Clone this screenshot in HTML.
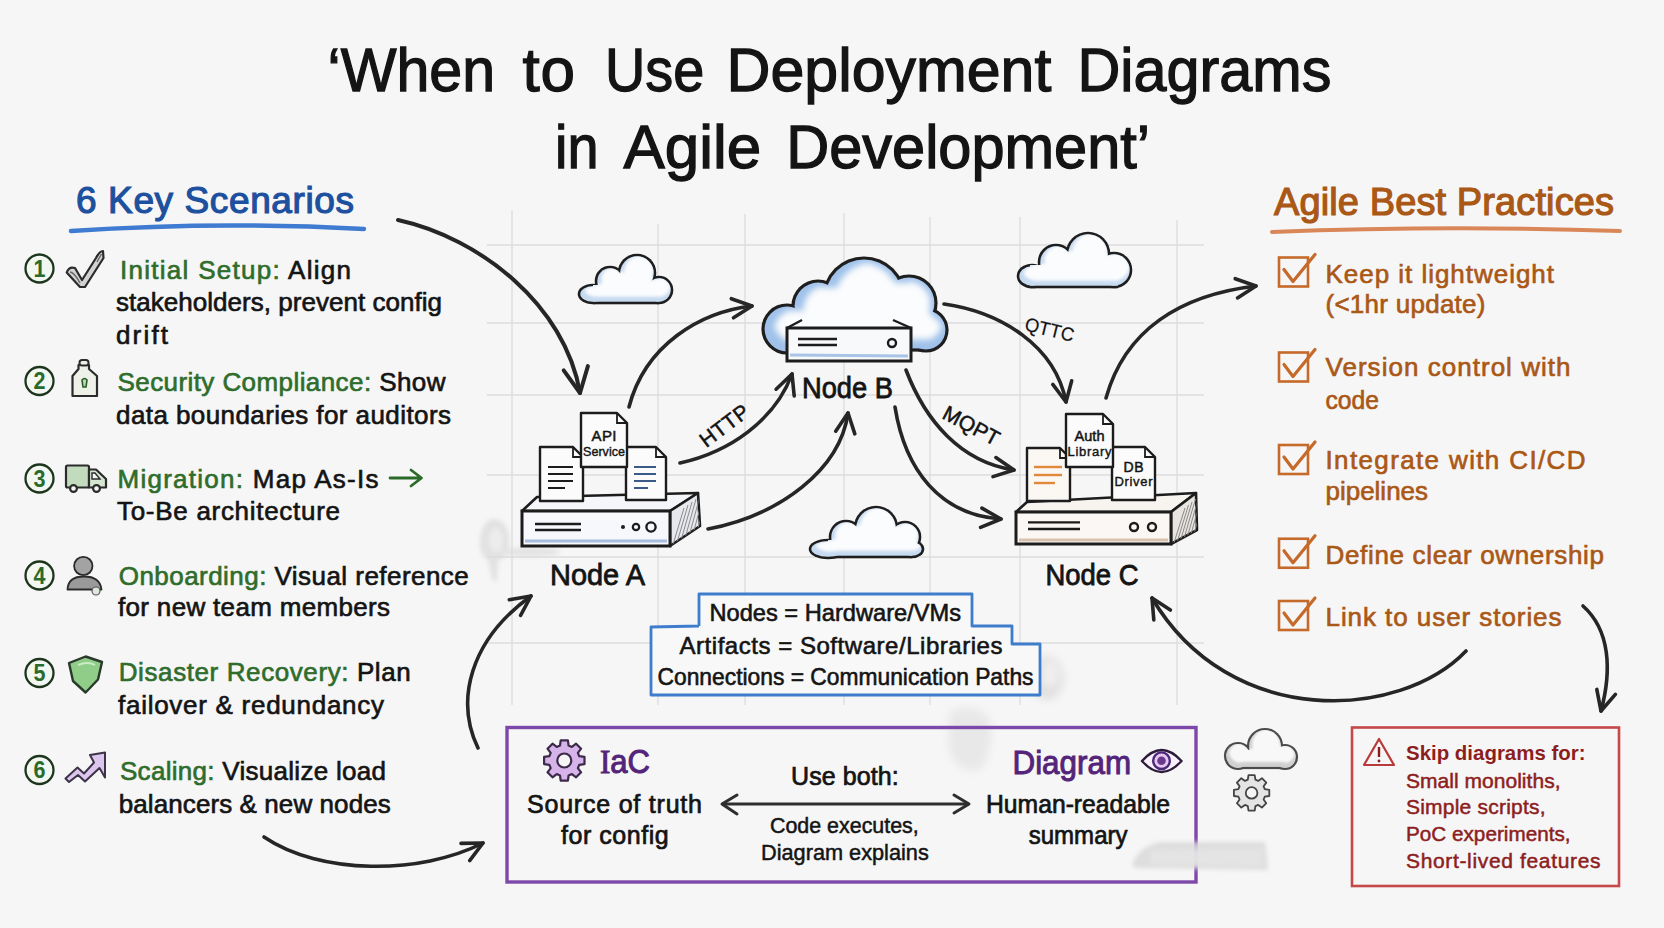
<!DOCTYPE html>
<html><head><meta charset="utf-8"><title>When to Use Deployment Diagrams in Agile Development</title>
<style>html,body{margin:0;padding:0;background:#f6f6f6;}svg{display:block;}text{font-family:"Liberation Sans", sans-serif;}</style>
</head><body>
<svg width="1664" height="928" viewBox="0 0 1664 928" font-family='"Liberation Sans", sans-serif'><rect x="0" y="0" width="1664" height="928" fill="#f6f6f6"/>
<defs><filter id="blur4" x="-50%" y="-50%" width="200%" height="200%"><feGaussianBlur stdDeviation="4"/></filter><filter id="blur2" x="-50%" y="-50%" width="200%" height="200%"><feGaussianBlur stdDeviation="2"/></filter></defs>
<g filter="url(#blur2)"><path d="M480 540 Q 482 518 496 519 Q 510 522 509 545 Q 507 560 498 560 L 497 580 Q 494 584 492 578 L 488 560 Q 479 556 480 540 Z" fill="#e2e2e2"/><ellipse cx="496" cy="540" rx="7" ry="12" fill="#ececec"/><ellipse cx="530" cy="552" rx="30" ry="5" fill="#e4e4e4"/></g>
<g filter="url(#blur4)"><path d="M950 712 Q 975 700 990 720 Q 995 750 980 770 Q 955 775 948 745 Z" fill="#e8e8e8"/><ellipse cx="1047" cy="678" rx="17" ry="22" fill="#e0e0e0"/><ellipse cx="1050" cy="674" rx="9" ry="13" fill="#efefef"/></g>
<line x1="512" y1="210" x2="512" y2="705" stroke="#dcdcdc" stroke-width="1.3"/>
<line x1="658" y1="224" x2="658" y2="705" stroke="#dcdcdc" stroke-width="1.3"/>
<line x1="745" y1="214" x2="745" y2="705" stroke="#dcdcdc" stroke-width="1.3"/>
<line x1="844" y1="213" x2="844" y2="705" stroke="#dcdcdc" stroke-width="1.3"/>
<line x1="930" y1="217" x2="930" y2="705" stroke="#dcdcdc" stroke-width="1.3"/>
<line x1="1020" y1="217" x2="1020" y2="705" stroke="#dcdcdc" stroke-width="1.3"/>
<line x1="1177" y1="220" x2="1177" y2="705" stroke="#dcdcdc" stroke-width="1.3"/>
<line x1="487" y1="245" x2="1204" y2="245" stroke="#dcdcdc" stroke-width="1.3"/>
<line x1="487" y1="323" x2="1204" y2="323" stroke="#dcdcdc" stroke-width="1.3"/>
<line x1="487" y1="395" x2="1204" y2="395" stroke="#dcdcdc" stroke-width="1.3"/>
<line x1="487" y1="475" x2="1204" y2="475" stroke="#dcdcdc" stroke-width="1.3"/>
<line x1="487" y1="557" x2="1204" y2="557" stroke="#dcdcdc" stroke-width="1.3"/>
<line x1="487" y1="643" x2="1204" y2="643" stroke="#dcdcdc" stroke-width="1.3"/>
<text x="327.5" y="91" font-size="62" fill="#141414" font-weight="normal" text-anchor="start" textLength="167.5" lengthAdjust="spacingAndGlyphs" stroke="#141414" stroke-width="1.3">‘When</text>
<text x="522.5" y="91" font-size="62" fill="#141414" font-weight="normal" text-anchor="start" textLength="52.5" lengthAdjust="spacing" stroke="#141414" stroke-width="1.3">to</text>
<text x="605.0" y="91" font-size="62" fill="#141414" font-weight="normal" text-anchor="start" textLength="99.2" lengthAdjust="spacingAndGlyphs" stroke="#141414" stroke-width="1.3">Use</text>
<text x="726.5" y="91" font-size="62" fill="#141414" font-weight="normal" text-anchor="start" textLength="324.8" lengthAdjust="spacingAndGlyphs" stroke="#141414" stroke-width="1.3">Deployment</text>
<text x="1077.5" y="91" font-size="62" fill="#141414" font-weight="normal" text-anchor="start" textLength="254" lengthAdjust="spacingAndGlyphs" stroke="#141414" stroke-width="1.3">Diagrams</text>
<text x="555.0" y="167.5" font-size="62" fill="#141414" font-weight="normal" text-anchor="start" textLength="43.5" lengthAdjust="spacingAndGlyphs" stroke="#141414" stroke-width="1.3">in</text>
<text x="623.5" y="167.5" font-size="62" fill="#141414" font-weight="normal" text-anchor="start" textLength="137.8" lengthAdjust="spacingAndGlyphs" stroke="#141414" stroke-width="1.3">Agile</text>
<text x="786.25" y="167.5" font-size="62" fill="#141414" font-weight="normal" text-anchor="start" textLength="363.8" lengthAdjust="spacingAndGlyphs" stroke="#141414" stroke-width="1.3">Development’</text>
<text x="76" y="212.5" font-size="37" fill="#1d509e" font-weight="normal" text-anchor="start" textLength="278" lengthAdjust="spacing" stroke="#1d509e" stroke-width="1.2">6 Key Scenarios</text>
<path d="M71 231 Q 217 221 364 229" fill="none" stroke="#3f7bd0" stroke-width="4.5" stroke-linecap="round"/>
<circle cx="39.5" cy="268.5" r="14" fill="#f3f7f1" stroke="#1d351d" stroke-width="2.3"/>
<text x="39.5" y="276.7" font-size="23" fill="#2a6a2a" font-weight="bold" text-anchor="middle" textLength="12" lengthAdjust="spacingAndGlyphs">1</text>
<text x="120" y="278.7" font-size="26" fill="#141414" font-weight="normal" text-anchor="start" textLength="231" lengthAdjust="spacing" stroke="#141414" stroke-width="0.65"><tspan fill="#2f6d2c" stroke="#2f6d2c">Initial Setup:</tspan> Align</text>
<text x="116" y="311.3" font-size="26" fill="#141414" font-weight="normal" text-anchor="start" textLength="326" lengthAdjust="spacing" stroke="#141414" stroke-width="0.65">stakeholders, prevent config</text>
<text x="116" y="344" font-size="26" fill="#141414" font-weight="normal" text-anchor="start" textLength="52" lengthAdjust="spacing" stroke="#141414" stroke-width="0.65">drift</text>
<circle cx="39.5" cy="381" r="14" fill="#f3f7f1" stroke="#1d351d" stroke-width="2.3"/>
<text x="39.5" y="389.2" font-size="23" fill="#2a6a2a" font-weight="bold" text-anchor="middle" textLength="12" lengthAdjust="spacingAndGlyphs">2</text>
<text x="117.5" y="391" font-size="26" fill="#141414" font-weight="normal" text-anchor="start" textLength="328" lengthAdjust="spacing" stroke="#141414" stroke-width="0.65"><tspan fill="#2f6d2c" stroke="#2f6d2c">Security Compliance:</tspan> Show</text>
<text x="116" y="423.75" font-size="26" fill="#141414" font-weight="normal" text-anchor="start" textLength="335" lengthAdjust="spacing" stroke="#141414" stroke-width="0.65">data boundaries for auditors</text>
<circle cx="39.5" cy="478.5" r="14" fill="#f3f7f1" stroke="#1d351d" stroke-width="2.3"/>
<text x="39.5" y="486.7" font-size="23" fill="#2a6a2a" font-weight="bold" text-anchor="middle" textLength="12" lengthAdjust="spacingAndGlyphs">3</text>
<text x="117.5" y="487.5" font-size="26" fill="#141414" font-weight="normal" text-anchor="start" textLength="261" lengthAdjust="spacing" stroke="#141414" stroke-width="0.65"><tspan fill="#2f6d2c" stroke="#2f6d2c">Migration:</tspan> Map As-Is</text>
<text x="117" y="520" font-size="26" fill="#141414" font-weight="normal" text-anchor="start" textLength="223" lengthAdjust="spacing" stroke="#141414" stroke-width="0.65">To-Be architecture</text>
<circle cx="39.5" cy="575.5" r="14" fill="#f3f7f1" stroke="#1d351d" stroke-width="2.3"/>
<text x="39.5" y="583.7" font-size="23" fill="#2a6a2a" font-weight="bold" text-anchor="middle" textLength="12" lengthAdjust="spacingAndGlyphs">4</text>
<text x="118.75" y="585" font-size="26" fill="#141414" font-weight="normal" text-anchor="start" textLength="350" lengthAdjust="spacing" stroke="#141414" stroke-width="0.65"><tspan fill="#2f6d2c" stroke="#2f6d2c">Onboarding:</tspan> Visual reference</text>
<text x="118" y="616" font-size="26" fill="#141414" font-weight="normal" text-anchor="start" textLength="272" lengthAdjust="spacing" stroke="#141414" stroke-width="0.65">for new team members</text>
<circle cx="39.5" cy="673" r="14" fill="#f3f7f1" stroke="#1d351d" stroke-width="2.3"/>
<text x="39.5" y="681.2" font-size="23" fill="#2a6a2a" font-weight="bold" text-anchor="middle" textLength="12" lengthAdjust="spacingAndGlyphs">5</text>
<text x="118.75" y="681" font-size="26" fill="#141414" font-weight="normal" text-anchor="start" textLength="292" lengthAdjust="spacing" stroke="#141414" stroke-width="0.65"><tspan fill="#2f6d2c" stroke="#2f6d2c">Disaster Recovery:</tspan> Plan</text>
<text x="118" y="713.75" font-size="26" fill="#141414" font-weight="normal" text-anchor="start" textLength="266" lengthAdjust="spacing" stroke="#141414" stroke-width="0.65">failover &amp; redundancy</text>
<circle cx="39.5" cy="770" r="14" fill="#f3f7f1" stroke="#1d351d" stroke-width="2.3"/>
<text x="39.5" y="778.2" font-size="23" fill="#2a6a2a" font-weight="bold" text-anchor="middle" textLength="12" lengthAdjust="spacingAndGlyphs">6</text>
<text x="120" y="780" font-size="26" fill="#141414" font-weight="normal" text-anchor="start" textLength="266" lengthAdjust="spacing" stroke="#141414" stroke-width="0.65"><tspan fill="#2f6d2c" stroke="#2f6d2c">Scaling:</tspan> Visualize load</text>
<text x="118.75" y="812.5" font-size="26" fill="#141414" font-weight="normal" text-anchor="start" textLength="272" lengthAdjust="spacing" stroke="#141414" stroke-width="0.65">balancers &amp; new nodes</text>
<path d="M390 478 L421 478 M411 470 L421.5 478 L411 486" fill="none" stroke="#2c6a2a" stroke-width="2.8" stroke-linecap="round" stroke-linejoin="round"/>
<path d="M66.7 272.5 Q 69 266 75 268 L 82 280 L 96 258 Q 99.5 251 103 251 L 103.5 258 L 85 287 L 80 287 Z" fill="#d2d2d2" stroke="#2b2b2b" stroke-width="2.2" stroke-linejoin="round"/>
<path d="M70 272 Q 74 272 80 283 M97 262 L 101.5 254" fill="none" stroke="#666" stroke-width="1.4"/>
<path d="M78.5 369 L78.5 365 L89 365 L89 369 L97 376 L97 396 L72.5 396 L72.5 376 Z" fill="#edf1e8" stroke="#2b2b2b" stroke-width="2.2" stroke-linejoin="round"/>
<rect x="79.5" y="360" width="9" height="5.5" rx="2.5" fill="#edf1e8" stroke="#2b2b2b" stroke-width="2"/>
<path d="M82 380 Q 84.5 377 87 380 L86 387 L83 387 Z" fill="#b9dbb0" stroke="#2a5a2a" stroke-width="1.6"/>
<rect x="66" y="465.5" width="23" height="22" rx="1.5" fill="#c3dbbd" stroke="#2b2b2b" stroke-width="2.2"/>
<path d="M89 469.5 L96 469.5 L106 479 L106 487.5 L89 487.5 Z" fill="#d6e7d1" stroke="#2b2b2b" stroke-width="2.2" stroke-linejoin="round"/>
<path d="M92 473 L95 473 L100 479 L92 479 Z" fill="#f6f6f6" stroke="#2b2b2b" stroke-width="1.4"/>
<circle cx="73.5" cy="488.5" r="3.4" fill="#f6f6f6" stroke="#2b2b2b" stroke-width="2.2"/>
<circle cx="96.5" cy="488.5" r="3.4" fill="#f6f6f6" stroke="#2b2b2b" stroke-width="2.2"/>
<circle cx="83.3" cy="566" r="9.2" fill="#a3a3a3" stroke="#2b2b2b" stroke-width="1.8"/>
<path d="M67.5 589.5 Q 68 576.5 84 576.5 Q 100 576.5 101.5 589.5 Z" fill="#9a9a9a" stroke="#2b2b2b" stroke-width="1.8" stroke-linejoin="round"/>
<circle cx="96" cy="591" r="4" fill="#dfe8dc" stroke="#555" stroke-width="1.2"/>
<path d="M69 663 L85.6 656.5 L102 662 L98 679.5 L85.6 692.5 L73 681 Z" fill="#8fcd88" stroke="#2a3a2a" stroke-width="2.4" stroke-linejoin="round"/>
<path d="M78 665 Q 88 661 95 665" fill="none" stroke="#c9ecc4" stroke-width="2"/>
<path d="M65.5 778.5 L77.5 767.5 L84 773.5 L94 762.5 L90 755 L105 752.5 L105 777.5 L99.5 768 L85 781.5 L78 775 L69 782 Z" fill="#dcc6ee" stroke="#3d3348" stroke-width="2" stroke-linejoin="round"/>
<text x="1274" y="215" font-size="38" fill="#aa5816" font-weight="normal" text-anchor="start" textLength="340" lengthAdjust="spacing" stroke="#aa5816" stroke-width="1.2">Agile Best Practices</text>
<path d="M1272 232 Q 1446 225 1620 231" fill="none" stroke="#d98758" stroke-width="4" stroke-linecap="round"/>
<rect x="1279" y="257.5" width="29" height="29" fill="none" stroke="#c56a2a" stroke-width="2.6"/>
<path d="M1284 269.5 L1293 281.5 L1315 254.5" fill="none" stroke="#c56a2a" stroke-width="3.2" stroke-linecap="round" stroke-linejoin="round"/>
<rect x="1279" y="352.5" width="29" height="29" fill="none" stroke="#c56a2a" stroke-width="2.6"/>
<path d="M1284 364.5 L1293 376.5 L1315 349.5" fill="none" stroke="#c56a2a" stroke-width="3.2" stroke-linecap="round" stroke-linejoin="round"/>
<rect x="1279" y="445" width="29" height="29" fill="none" stroke="#c56a2a" stroke-width="2.6"/>
<path d="M1284 457 L1293 469 L1315 442" fill="none" stroke="#c56a2a" stroke-width="3.2" stroke-linecap="round" stroke-linejoin="round"/>
<rect x="1279" y="538.75" width="29" height="29" fill="none" stroke="#c56a2a" stroke-width="2.6"/>
<path d="M1284 550.75 L1293 562.75 L1315 535.75" fill="none" stroke="#c56a2a" stroke-width="3.2" stroke-linecap="round" stroke-linejoin="round"/>
<rect x="1279" y="601" width="29" height="29" fill="none" stroke="#c56a2a" stroke-width="2.6"/>
<path d="M1284 613 L1293 625 L1315 598" fill="none" stroke="#c56a2a" stroke-width="3.2" stroke-linecap="round" stroke-linejoin="round"/>
<text x="1325.5" y="282.5" font-size="26" fill="#aa5816" font-weight="normal" text-anchor="start" textLength="228.5" lengthAdjust="spacing" stroke="#aa5816" stroke-width="0.65">Keep it lightweight</text>
<text x="1325.5" y="313" font-size="26" fill="#aa5816" font-weight="normal" text-anchor="start" textLength="160" lengthAdjust="spacing" stroke="#aa5816" stroke-width="0.65">(&lt;1hr update)</text>
<text x="1325.5" y="376" font-size="26" fill="#aa5816" font-weight="normal" text-anchor="start" textLength="245" lengthAdjust="spacing" stroke="#aa5816" stroke-width="0.65">Version control with</text>
<text x="1325.5" y="408.75" font-size="26" fill="#aa5816" font-weight="normal" text-anchor="start" textLength="53.5" lengthAdjust="spacingAndGlyphs" stroke="#aa5816" stroke-width="0.65">code</text>
<text x="1325.5" y="468.75" font-size="26" fill="#aa5816" font-weight="normal" text-anchor="start" textLength="260" lengthAdjust="spacing" stroke="#aa5816" stroke-width="0.65">Integrate with CI/CD</text>
<text x="1325.5" y="500" font-size="26" fill="#aa5816" font-weight="normal" text-anchor="start" textLength="102.5" lengthAdjust="spacingAndGlyphs" stroke="#aa5816" stroke-width="0.65">pipelines</text>
<text x="1325.5" y="563.75" font-size="26" fill="#aa5816" font-weight="normal" text-anchor="start" textLength="278.5" lengthAdjust="spacing" stroke="#aa5816" stroke-width="0.65">Define clear ownership</text>
<text x="1325.5" y="626" font-size="26" fill="#aa5816" font-weight="normal" text-anchor="start" textLength="236" lengthAdjust="spacing" stroke="#aa5816" stroke-width="0.65">Link to user stories</text>
<rect x="1352" y="727.5" width="267" height="158.5" fill="none" stroke="#c64848" stroke-width="2.6"/>
<path d="M1364 765 L1379 739 L1394 765 Z" fill="none" stroke="#b83a3a" stroke-width="2.2" stroke-linejoin="round"/>
<line x1="1379" y1="747" x2="1379" y2="757" stroke="#8c1c1c" stroke-width="2.4"/>
<circle cx="1379" cy="761" r="1.4" fill="#8c1c1c"/>
<text x="1406" y="760" font-size="21" fill="#8d1e1e" font-weight="bold" text-anchor="start" textLength="179.5" lengthAdjust="spacingAndGlyphs">Skip diagrams for:</text>
<text x="1406" y="787.5" font-size="21" fill="#8d1e1e" font-weight="normal" text-anchor="start" textLength="154.5" lengthAdjust="spacing" stroke="#8d1e1e" stroke-width="0.5">Small monoliths,</text>
<text x="1406" y="814" font-size="21" fill="#8d1e1e" font-weight="normal" text-anchor="start" textLength="139.5" lengthAdjust="spacing" stroke="#8d1e1e" stroke-width="0.5">Simple scripts,</text>
<text x="1406" y="841" font-size="21" fill="#8d1e1e" font-weight="normal" text-anchor="start" textLength="164.5" lengthAdjust="spacingAndGlyphs" stroke="#8d1e1e" stroke-width="0.5">PoC experiments,</text>
<text x="1406" y="868" font-size="21" fill="#8d1e1e" font-weight="normal" text-anchor="start" textLength="194.5" lengthAdjust="spacing" stroke="#8d1e1e" stroke-width="0.5">Short-lived features</text>
<rect x="507" y="727.5" width="689" height="154.5" fill="none" stroke="#7e48aa" stroke-width="3.4"/>
<text x="600" y="772.5" font-size="33" fill="#53247a" font-weight="normal" text-anchor="start" textLength="50" lengthAdjust="spacingAndGlyphs" stroke="#53247a" stroke-width="1.0"><tspan font-family="Liberation Serif">I</tspan>aC</text>
<text x="1012.5" y="773.75" font-size="33" fill="#53247a" font-weight="normal" text-anchor="start" textLength="118.5" lengthAdjust="spacingAndGlyphs" stroke="#53247a" stroke-width="1.0">Diagram</text>
<text x="527" y="812.5" font-size="25" fill="#141414" font-weight="normal" text-anchor="start" textLength="175" lengthAdjust="spacing" stroke="#141414" stroke-width="0.7">Source of truth</text>
<text x="561" y="843.75" font-size="25" fill="#141414" font-weight="normal" text-anchor="start" textLength="107.75" lengthAdjust="spacing" stroke="#141414" stroke-width="0.7">for config</text>
<text x="791" y="785" font-size="25" fill="#141414" font-weight="normal" text-anchor="start" textLength="107.75" lengthAdjust="spacing" stroke="#141414" stroke-width="0.7">Use both:</text>
<text x="770" y="832.5" font-size="22" fill="#141414" font-weight="normal" text-anchor="start" textLength="148.75" lengthAdjust="spacingAndGlyphs" stroke="#141414" stroke-width="0.5">Code executes,</text>
<text x="761" y="860" font-size="22" fill="#141414" font-weight="normal" text-anchor="start" textLength="167.75" lengthAdjust="spacingAndGlyphs" stroke="#141414" stroke-width="0.5">Diagram explains</text>
<text x="986" y="812.5" font-size="25" fill="#141414" font-weight="normal" text-anchor="start" textLength="184" lengthAdjust="spacingAndGlyphs" stroke="#141414" stroke-width="0.7">Human-readable</text>
<text x="1028.75" y="843.75" font-size="25" fill="#141414" font-weight="normal" text-anchor="start" textLength="98.75" lengthAdjust="spacingAndGlyphs" stroke="#141414" stroke-width="0.7">summary</text>
<path d="M722 804 L969 804" stroke="#2e2e2e" stroke-width="3" fill="none"/>
<path d="M737 795 L722 804 L737 814" stroke="#2e2e2e" stroke-width="3" fill="none" stroke-linecap="round" stroke-linejoin="round"/>
<path d="M954 795 L969 804 L954 813" stroke="#2e2e2e" stroke-width="3" fill="none" stroke-linecap="round" stroke-linejoin="round"/>
<path d="M560.0 745.5 L560.7 740.3 L567.9 740.3 L568.6 745.5 L571.9 746.9 L576.1 743.7 L581.1 748.7 L577.9 752.9 L579.3 756.2 L584.5 756.9 L584.5 764.1 L579.3 764.8 L577.9 768.1 L581.1 772.3 L576.1 777.3 L571.9 774.1 L568.6 775.5 L567.9 780.7 L560.7 780.7 L560.0 775.5 L556.7 774.1 L552.5 777.3 L547.5 772.3 L550.7 768.1 L549.3 764.8 L544.1 764.1 L544.1 756.9 L549.3 756.2 L550.7 752.9 L547.5 748.7 L552.5 743.7 L556.7 746.9 Z" fill="#d6b4ea" stroke="#3c2a4a" stroke-width="2.2" stroke-linejoin="round"/>
<circle cx="564.3" cy="760.5" r="7" fill="#f6f6f6" stroke="#3c2a4a" stroke-width="2.2"/>
<path d="M1142 761 Q 1161.5 739 1181.5 761 Q 1161.5 783 1142 761 Z" fill="#f8f0fb" stroke="#2e1a3a" stroke-width="2.3"/>
<circle cx="1161.5" cy="760.7" r="8.3" fill="#e6c6f2" stroke="#4a2a78" stroke-width="2.4"/>
<circle cx="1161.5" cy="760.7" r="4.3" fill="#6a3a8a"/>
<g><filter id="fcl1" x="-20%" y="-20%" width="140%" height="140%"><feMorphology in="SourceAlpha" operator="erode" radius="2" result="e"/><feOffset in="e" dx="1" dy="-3" result="o"/><feGaussianBlur in="o" stdDeviation="1" result="b"/><feFlood flood-color="#f8f8f8" result="fl"/><feComposite in="fl" in2="b" operator="in"/></filter><clipPath id="cl1"><circle cx="1238" cy="756" r="11.9" fill="#000"/><circle cx="1265" cy="746" r="15.9" fill="#000"/><circle cx="1285" cy="757" r="10.9" fill="#000"/><rect x="1236" y="750" width="49" height="16.9" fill="#000"/></clipPath><circle cx="1238" cy="756" r="14.1" fill="#4a4a4a"/><circle cx="1265" cy="746" r="18.1" fill="#4a4a4a"/><circle cx="1285" cy="757" r="13.1" fill="#4a4a4a"/><rect x="1236" y="750" width="49" height="19.1" fill="#4a4a4a"/><circle cx="1238" cy="756" r="11.9" fill="#d0d0d0"/><circle cx="1265" cy="746" r="15.9" fill="#d0d0d0"/><circle cx="1285" cy="757" r="10.9" fill="#d0d0d0"/><rect x="1236" y="750" width="49" height="16.9" fill="#d0d0d0"/><g clip-path="url(#cl1)"><g filter="url(#fcl1)"><circle cx="1238" cy="756" r="11.9" fill="#000"/><circle cx="1265" cy="746" r="15.9" fill="#000"/><circle cx="1285" cy="757" r="10.9" fill="#000"/><rect x="1236" y="750" width="49" height="16.9" fill="#000"/></g></g></g>
<path d="M1247.8 779.7 L1248.5 775.2 L1254.7 775.2 L1255.4 779.7 L1258.2 780.9 L1261.9 778.2 L1266.3 782.6 L1263.6 786.3 L1264.8 789.1 L1269.3 789.8 L1269.3 796.0 L1264.8 796.7 L1263.6 799.5 L1266.3 803.2 L1261.9 807.6 L1258.2 804.9 L1255.4 806.1 L1254.7 810.6 L1248.5 810.6 L1247.8 806.1 L1245.0 804.9 L1241.3 807.6 L1236.9 803.2 L1239.6 799.5 L1238.4 796.7 L1233.9 796.0 L1233.9 789.8 L1238.4 789.1 L1239.6 786.3 L1236.9 782.6 L1241.3 778.2 L1245.0 780.9 Z" fill="#e4e4e4" stroke="#444" stroke-width="1.8" stroke-linejoin="round"/>
<circle cx="1251.6" cy="792.9" r="5.8" fill="#f6f6f6" stroke="#444" stroke-width="1.8"/>
<path d="M699 626 L699 594 L972 594 L972 626 L1012 626 L1012 644 L1040 644 L1040 695 L651 695 L651 627 L699 626" fill="#f8f8f8" stroke="#3e7ccc" stroke-width="2.8" stroke-linejoin="round"/>
<text x="709.5" y="621.25" font-size="24" fill="#141414" font-weight="normal" text-anchor="start" textLength="251.5" lengthAdjust="spacingAndGlyphs" stroke="#141414" stroke-width="0.6">Nodes = Hardware/VMs</text>
<text x="679.5" y="653.75" font-size="24" fill="#141414" font-weight="normal" text-anchor="start" textLength="323" lengthAdjust="spacing" stroke="#141414" stroke-width="0.6">Artifacts = Software/Libraries</text>
<text x="657.5" y="685" font-size="24" fill="#141414" font-weight="normal" text-anchor="start" textLength="376" lengthAdjust="spacingAndGlyphs" stroke="#141414" stroke-width="0.6">Connections = Communication Paths</text>
<g><filter id="fcl2" x="-20%" y="-20%" width="140%" height="140%"><feMorphology in="SourceAlpha" operator="erode" radius="2" result="e"/><feOffset in="e" dx="2" dy="-3" result="o"/><feGaussianBlur in="o" stdDeviation="1.5" result="b"/><feFlood flood-color="#fbfcfd" result="fl"/><feComposite in="fl" in2="b" operator="in"/></filter><clipPath id="cl2"><ellipse cx="593" cy="294" rx="12.7" ry="7.7" fill="#000"/><circle cx="610" cy="281" r="12.7" fill="#000"/><circle cx="637" cy="273" r="16.7" fill="#000"/><circle cx="659" cy="290" r="11.7" fill="#000"/><circle cx="622" cy="288" r="10.7" fill="#000"/><rect x="593" y="285" width="66" height="16.7" fill="#000"/></clipPath><ellipse cx="593" cy="294" rx="15.3" ry="10.3" fill="#1e1e1e"/><circle cx="610" cy="281" r="15.3" fill="#1e1e1e"/><circle cx="637" cy="273" r="19.3" fill="#1e1e1e"/><circle cx="659" cy="290" r="14.3" fill="#1e1e1e"/><circle cx="622" cy="288" r="13.3" fill="#1e1e1e"/><rect x="593" y="285" width="66" height="19.3" fill="#1e1e1e"/><ellipse cx="593" cy="294" rx="12.7" ry="7.7" fill="#c6daf0"/><circle cx="610" cy="281" r="12.7" fill="#c6daf0"/><circle cx="637" cy="273" r="16.7" fill="#c6daf0"/><circle cx="659" cy="290" r="11.7" fill="#c6daf0"/><circle cx="622" cy="288" r="10.7" fill="#c6daf0"/><rect x="593" y="285" width="66" height="16.7" fill="#c6daf0"/><g clip-path="url(#cl2)"><g filter="url(#fcl2)"><ellipse cx="593" cy="294" rx="12.7" ry="7.7" fill="#000"/><circle cx="610" cy="281" r="12.7" fill="#000"/><circle cx="637" cy="273" r="16.7" fill="#000"/><circle cx="659" cy="290" r="11.7" fill="#000"/><circle cx="622" cy="288" r="10.7" fill="#000"/><rect x="593" y="285" width="66" height="16.7" fill="#000"/></g></g></g>
<g><filter id="fcl3" x="-20%" y="-20%" width="140%" height="140%"><feMorphology in="SourceAlpha" operator="erode" radius="2" result="e"/><feOffset in="e" dx="2" dy="-3" result="o"/><feGaussianBlur in="o" stdDeviation="1.5" result="b"/><feFlood flood-color="#fbfcfd" result="fl"/><feComposite in="fl" in2="b" operator="in"/></filter><clipPath id="cl3"><ellipse cx="1032" cy="276" rx="12.7" ry="9.7" fill="#000"/><circle cx="1056" cy="262" r="15.7" fill="#000"/><circle cx="1088" cy="254" r="19.7" fill="#000"/><circle cx="1114" cy="270" r="15.7" fill="#000"/><circle cx="1072" cy="272" r="10.7" fill="#000"/><rect x="1030" y="265" width="88" height="20.7" fill="#000"/></clipPath><ellipse cx="1032" cy="276" rx="15.3" ry="12.3" fill="#1e1e1e"/><circle cx="1056" cy="262" r="18.3" fill="#1e1e1e"/><circle cx="1088" cy="254" r="22.3" fill="#1e1e1e"/><circle cx="1114" cy="270" r="18.3" fill="#1e1e1e"/><circle cx="1072" cy="272" r="13.3" fill="#1e1e1e"/><rect x="1030" y="265" width="88" height="23.3" fill="#1e1e1e"/><ellipse cx="1032" cy="276" rx="12.7" ry="9.7" fill="#c6daf0"/><circle cx="1056" cy="262" r="15.7" fill="#c6daf0"/><circle cx="1088" cy="254" r="19.7" fill="#c6daf0"/><circle cx="1114" cy="270" r="15.7" fill="#c6daf0"/><circle cx="1072" cy="272" r="10.7" fill="#c6daf0"/><rect x="1030" y="265" width="88" height="20.7" fill="#c6daf0"/><g clip-path="url(#cl3)"><g filter="url(#fcl3)"><ellipse cx="1032" cy="276" rx="12.7" ry="9.7" fill="#000"/><circle cx="1056" cy="262" r="15.7" fill="#000"/><circle cx="1088" cy="254" r="19.7" fill="#000"/><circle cx="1114" cy="270" r="15.7" fill="#000"/><circle cx="1072" cy="272" r="10.7" fill="#000"/><rect x="1030" y="265" width="88" height="20.7" fill="#000"/></g></g></g>
<g><filter id="fcl4" x="-20%" y="-20%" width="140%" height="140%"><feMorphology in="SourceAlpha" operator="erode" radius="2" result="e"/><feOffset in="e" dx="2" dy="-3" result="o"/><feGaussianBlur in="o" stdDeviation="1.5" result="b"/><feFlood flood-color="#fbfcfd" result="fl"/><feComposite in="fl" in2="b" operator="in"/></filter><clipPath id="cl4"><ellipse cx="828" cy="549" rx="16.7" ry="7.7" fill="#000"/><circle cx="846" cy="537" r="14.7" fill="#000"/><circle cx="876" cy="528" r="19.7" fill="#000"/><circle cx="905" cy="537" r="13.7" fill="#000"/><ellipse cx="912" cy="549" rx="9.7" ry="6.7" fill="#000"/><circle cx="862" cy="540" r="8.7" fill="#000"/><circle cx="892" cy="541" r="7.7" fill="#000"/><rect x="828" y="540" width="84" height="15.7" fill="#000"/></clipPath><ellipse cx="828" cy="549" rx="19.3" ry="10.3" fill="#1e1e1e"/><circle cx="846" cy="537" r="17.3" fill="#1e1e1e"/><circle cx="876" cy="528" r="22.3" fill="#1e1e1e"/><circle cx="905" cy="537" r="16.3" fill="#1e1e1e"/><ellipse cx="912" cy="549" rx="12.3" ry="9.3" fill="#1e1e1e"/><circle cx="862" cy="540" r="11.3" fill="#1e1e1e"/><circle cx="892" cy="541" r="10.3" fill="#1e1e1e"/><rect x="828" y="540" width="84" height="18.3" fill="#1e1e1e"/><ellipse cx="828" cy="549" rx="16.7" ry="7.7" fill="#c6daf0"/><circle cx="846" cy="537" r="14.7" fill="#c6daf0"/><circle cx="876" cy="528" r="19.7" fill="#c6daf0"/><circle cx="905" cy="537" r="13.7" fill="#c6daf0"/><ellipse cx="912" cy="549" rx="9.7" ry="6.7" fill="#c6daf0"/><circle cx="862" cy="540" r="8.7" fill="#c6daf0"/><circle cx="892" cy="541" r="7.7" fill="#c6daf0"/><rect x="828" y="540" width="84" height="15.7" fill="#c6daf0"/><g clip-path="url(#cl4)"><g filter="url(#fcl4)"><ellipse cx="828" cy="549" rx="16.7" ry="7.7" fill="#000"/><circle cx="846" cy="537" r="14.7" fill="#000"/><circle cx="876" cy="528" r="19.7" fill="#000"/><circle cx="905" cy="537" r="13.7" fill="#000"/><ellipse cx="912" cy="549" rx="9.7" ry="6.7" fill="#000"/><circle cx="862" cy="540" r="8.7" fill="#000"/><circle cx="892" cy="541" r="7.7" fill="#000"/><rect x="828" y="540" width="84" height="15.7" fill="#000"/></g></g></g>
<g><filter id="fcl5" x="-20%" y="-20%" width="140%" height="140%"><feMorphology in="SourceAlpha" operator="erode" radius="6" result="e"/><feOffset in="e" dx="3" dy="-3" result="o"/><feGaussianBlur in="o" stdDeviation="3" result="b"/><feFlood flood-color="#fbfcfd" result="fl"/><feComposite in="fl" in2="b" operator="in"/></filter><clipPath id="cl5"><circle cx="787" cy="329" r="22.4" fill="#000"/><circle cx="818" cy="306" r="23.4" fill="#000"/><circle cx="864" cy="298" r="38.4" fill="#000"/><circle cx="909" cy="303" r="25.4" fill="#000"/><circle cx="926" cy="330" r="19.4" fill="#000"/><rect x="787" y="320" width="139" height="28.4" fill="#000"/></clipPath><circle cx="787" cy="329" r="25.6" fill="#1e1e1e"/><circle cx="818" cy="306" r="26.6" fill="#1e1e1e"/><circle cx="864" cy="298" r="41.6" fill="#1e1e1e"/><circle cx="909" cy="303" r="28.6" fill="#1e1e1e"/><circle cx="926" cy="330" r="22.6" fill="#1e1e1e"/><rect x="787" y="320" width="139" height="31.6" fill="#1e1e1e"/><circle cx="787" cy="329" r="22.4" fill="#9fc1ea"/><circle cx="818" cy="306" r="23.4" fill="#9fc1ea"/><circle cx="864" cy="298" r="38.4" fill="#9fc1ea"/><circle cx="909" cy="303" r="25.4" fill="#9fc1ea"/><circle cx="926" cy="330" r="19.4" fill="#9fc1ea"/><rect x="787" y="320" width="139" height="28.4" fill="#9fc1ea"/><g clip-path="url(#cl5)"><g filter="url(#fcl5)"><circle cx="787" cy="329" r="22.4" fill="#000"/><circle cx="818" cy="306" r="23.4" fill="#000"/><circle cx="864" cy="298" r="38.4" fill="#000"/><circle cx="909" cy="303" r="25.4" fill="#000"/><circle cx="926" cy="330" r="19.4" fill="#000"/><rect x="787" y="320" width="139" height="28.4" fill="#000"/></g></g></g>
<path d="M522 511 L537 497 L698 493 L670 511 Z" fill="#f4f6fa" stroke="#1c1c1c" stroke-width="2.6" stroke-linejoin="round"/>
<path d="M540 447 L573 447 L583 457 L583 501 L540 501 Z" fill="#fbfbfb" stroke="#1c1c1c" stroke-width="2.4" stroke-linejoin="round"/>
<path d="M573 447 L573 457 L583 457" fill="none" stroke="#1c1c1c" stroke-width="1.8"/>
<path d="M626 447 L656 447 L666 457 L666 500 L626 500 Z" fill="#fbfbfb" stroke="#1c1c1c" stroke-width="2.4" stroke-linejoin="round"/>
<path d="M656 447 L656 457 L666 457" fill="none" stroke="#1c1c1c" stroke-width="1.8"/>
<path d="M581 413 L617 413 L627 423 L627 467 L581 467 Z" fill="#fbfbfb" stroke="#1c1c1c" stroke-width="2.4" stroke-linejoin="round"/>
<path d="M617 413 L617 423 L627 423" fill="none" stroke="#1c1c1c" stroke-width="1.8"/>
<path d="M670 511 L698 493 L700 526 L670 546 Z" fill="#e6e8ee" stroke="#1c1c1c" stroke-width="2.6" stroke-linejoin="round"/>
<rect x="522" y="511" width="148" height="35" fill="#f6f8fc" stroke="#1c1c1c" stroke-width="3"/>
<line x1="525" y1="541" x2="667" y2="541" stroke="#a8bede" stroke-width="3"/>
<line x1="535" y1="524" x2="581" y2="524" stroke="#1c1c1c" stroke-width="2.4"/>
<line x1="535" y1="530" x2="581" y2="530" stroke="#1c1c1c" stroke-width="2.4"/>
<circle cx="623" cy="527" r="2" fill="#1c1c1c"/><circle cx="636" cy="527" r="3.2" fill="none" stroke="#1c1c1c" stroke-width="2.2"/><circle cx="651" cy="527" r="4.6" fill="none" stroke="#1c1c1c" stroke-width="2.4"/>
<line x1="548" y1="467" x2="573" y2="467" stroke="#1c1c1c" stroke-width="2"/>
<line x1="548" y1="474" x2="573" y2="474" stroke="#1c1c1c" stroke-width="2"/>
<line x1="548" y1="481" x2="573" y2="481" stroke="#1c1c1c" stroke-width="2"/>
<line x1="548" y1="488" x2="565" y2="488" stroke="#1c1c1c" stroke-width="2"/>
<line x1="634" y1="467" x2="656" y2="467" stroke="#3a5a8a" stroke-width="2"/>
<line x1="634" y1="474" x2="656" y2="474" stroke="#3a5a8a" stroke-width="2"/>
<line x1="634" y1="481" x2="656" y2="481" stroke="#3a5a8a" stroke-width="2"/>
<line x1="634" y1="488" x2="648" y2="488" stroke="#3a5a8a" stroke-width="2"/>
<text x="604" y="441" font-size="15" fill="#141414" font-weight="normal" text-anchor="middle" textLength="25" lengthAdjust="spacing" stroke="#141414" stroke-width="0.5">API</text>
<text x="604" y="456" font-size="12.5" fill="#141414" font-weight="normal" text-anchor="middle" textLength="42" lengthAdjust="spacing" stroke="#141414" stroke-width="0.4">Service</text>
<path d="M787 328 L802 320" stroke="#1c1c1c" stroke-width="2.4"/><path d="M911 328 L893 320" stroke="#1c1c1c" stroke-width="2.4"/>
<rect x="787" y="328" width="124" height="33" fill="#f8f9fb" stroke="#1c1c1c" stroke-width="3"/>
<line x1="790" y1="355" x2="908" y2="356" stroke="#a9c4e6" stroke-width="3"/>
<line x1="798" y1="339" x2="837" y2="339" stroke="#1c1c1c" stroke-width="2.4"/>
<line x1="798" y1="345" x2="837" y2="345" stroke="#1c1c1c" stroke-width="2.4"/>
<circle cx="892" cy="343" r="4" fill="none" stroke="#1c1c1c" stroke-width="2.4"/>
<path d="M1016 512 L1027 502 L1196 493 L1171 512 Z" fill="#f7f3ef" stroke="#1c1c1c" stroke-width="2.6" stroke-linejoin="round"/>
<path d="M1027 448 L1060 448 L1070 458 L1070 501 L1027 501 Z" fill="#fbf8f3" stroke="#1c1c1c" stroke-width="2.4" stroke-linejoin="round"/>
<path d="M1060 448 L1060 458 L1070 458" fill="none" stroke="#1c1c1c" stroke-width="1.8"/>
<path d="M1112 447 L1145 447 L1155 457 L1155 500 L1112 500 Z" fill="#fbfbfb" stroke="#1c1c1c" stroke-width="2.4" stroke-linejoin="round"/>
<path d="M1145 447 L1145 457 L1155 457" fill="none" stroke="#1c1c1c" stroke-width="1.8"/>
<path d="M1066 414 L1103 414 L1113 424 L1113 467 L1066 467 Z" fill="#fbfbfb" stroke="#1c1c1c" stroke-width="2.4" stroke-linejoin="round"/>
<path d="M1103 414 L1103 424 L1113 424" fill="none" stroke="#1c1c1c" stroke-width="1.8"/>
<path d="M1171 512 L1196 493 L1197 530 L1171 544 Z" fill="#e8e4e0" stroke="#1c1c1c" stroke-width="2.6" stroke-linejoin="round"/>
<rect x="1016" y="512" width="155" height="32" fill="#faf7f4" stroke="#1c1c1c" stroke-width="3"/>
<line x1="1019" y1="540" x2="1168" y2="540" stroke="#d8c2ae" stroke-width="3"/>
<line x1="1028" y1="522.4" x2="1080" y2="522.4" stroke="#1c1c1c" stroke-width="2.4"/>
<line x1="1028" y1="529" x2="1080" y2="529" stroke="#1c1c1c" stroke-width="2.4"/>
<circle cx="1134" cy="527" r="4" fill="none" stroke="#1c1c1c" stroke-width="2.4"/><circle cx="1152" cy="527" r="4" fill="none" stroke="#1c1c1c" stroke-width="2.4"/>
<line x1="1034" y1="467" x2="1062" y2="467" stroke="#e0893a" stroke-width="2.4"/>
<line x1="1034" y1="475" x2="1062" y2="475" stroke="#e0893a" stroke-width="2.4"/>
<line x1="1034" y1="483" x2="1055" y2="483" stroke="#e0893a" stroke-width="2.4"/>
<text x="1089.5" y="441" font-size="15" fill="#141414" font-weight="normal" text-anchor="middle" textLength="30" lengthAdjust="spacingAndGlyphs" stroke="#141414" stroke-width="0.5">Auth</text>
<text x="1089.5" y="456" font-size="13" fill="#141414" font-weight="normal" text-anchor="middle" textLength="44" lengthAdjust="spacing" stroke="#141414" stroke-width="0.4">Library</text>
<text x="1133.5" y="471.5" font-size="14" fill="#141414" font-weight="normal" text-anchor="middle" textLength="20" lengthAdjust="spacing" stroke="#141414" stroke-width="0.5">DB</text>
<text x="1133.5" y="486" font-size="13" fill="#141414" font-weight="normal" text-anchor="middle" textLength="38" lengthAdjust="spacing" stroke="#141414" stroke-width="0.4">Driver</text>
<text x="550" y="585" font-size="29" fill="#141414" font-weight="normal" text-anchor="start" textLength="95" lengthAdjust="spacingAndGlyphs" stroke="#141414" stroke-width="0.8">Node A</text>
<text x="802" y="398" font-size="29" fill="#141414" font-weight="normal" text-anchor="start" textLength="91" lengthAdjust="spacingAndGlyphs" stroke="#141414" stroke-width="0.8">Node B</text>
<text x="1045.5" y="585" font-size="29" fill="#141414" font-weight="normal" text-anchor="start" textLength="93" lengthAdjust="spacingAndGlyphs" stroke="#141414" stroke-width="0.8">Node C</text>
<text x="728.5" y="431.5" font-size="21" fill="#141414" font-weight="normal" text-anchor="middle" textLength="56" lengthAdjust="spacing" transform="rotate(-37 728.5 431.5)" stroke="#141414" stroke-width="0.5">HTTP</text>
<text x="968" y="432" font-size="21" fill="#141414" font-weight="normal" text-anchor="middle" textLength="61" lengthAdjust="spacing" transform="rotate(28 968 432)" stroke="#141414" stroke-width="0.5">MQPT</text>
<text x="1048" y="336" font-size="19" fill="#141414" font-weight="normal" text-anchor="middle" textLength="50" lengthAdjust="spacingAndGlyphs" transform="rotate(14 1048 336)" stroke="#141414" stroke-width="0.2">QTTC</text>
<g filter="url(#blur2)"><path d="M1132 864 Q 1140 846 1160 842 L1265 842 L1268 870 L1135 868 Z" fill="#d9d9d9" opacity="0.85"/><path d="M1150 850 L1262 849 L1262 866 L1150 865 Z" fill="#e6e6e6" opacity="0.8"/></g>
<clipPath id="hA"><path d="M670 511 L698 493 L700 526 L670 546 Z"/></clipPath><clipPath id="hC"><path d="M1171 512 L1196 493 L1197 530 L1171 544 Z"/></clipPath>
<g clip-path="url(#hA)"><line x1="672" y1="548" x2="684" y2="508" stroke="#8a8a8a" stroke-width="1"/><line x1="676" y1="546" x2="688" y2="505" stroke="#8a8a8a" stroke-width="1"/><line x1="680" y1="544" x2="692" y2="502" stroke="#8a8a8a" stroke-width="1"/><line x1="684" y1="542" x2="696" y2="499" stroke="#8a8a8a" stroke-width="1"/><line x1="688" y1="540" x2="700" y2="496" stroke="#8a8a8a" stroke-width="1"/><line x1="692" y1="538" x2="704" y2="493" stroke="#8a8a8a" stroke-width="1"/><line x1="696" y1="536" x2="708" y2="490" stroke="#8a8a8a" stroke-width="1"/></g><g clip-path="url(#hC)"><line x1="1173.0" y1="546" x2="1185.0" y2="508" stroke="#8a8a8a" stroke-width="1"/><line x1="1176.5" y1="544" x2="1188.5" y2="505" stroke="#8a8a8a" stroke-width="1"/><line x1="1180.0" y1="542" x2="1192.0" y2="502" stroke="#8a8a8a" stroke-width="1"/><line x1="1183.5" y1="540" x2="1195.5" y2="499" stroke="#8a8a8a" stroke-width="1"/><line x1="1187.0" y1="538" x2="1199.0" y2="496" stroke="#8a8a8a" stroke-width="1"/><line x1="1190.5" y1="536" x2="1202.5" y2="493" stroke="#8a8a8a" stroke-width="1"/><line x1="1194.0" y1="534" x2="1206.0" y2="490" stroke="#8a8a8a" stroke-width="1"/></g>
<path d="M398 220 C480 238 565 305 580 393" fill="none" stroke="#262626" stroke-width="4" stroke-linecap="round"/>
<path d="M587.9 366.1 L580 393 L563.7 370.3" fill="none" stroke="#262626" stroke-width="4" stroke-linecap="round" stroke-linejoin="round"/>
<path d="M629 407 C645 345 700 312 752 306" fill="none" stroke="#262626" stroke-width="3.6" stroke-linecap="round"/>
<path d="M731.3 298.7 L752 306 L733.5 317.8" fill="none" stroke="#262626" stroke-width="3.6" stroke-linecap="round" stroke-linejoin="round"/>
<path d="M680 463 C730 452 775 420 792 374" fill="none" stroke="#262626" stroke-width="3.6" stroke-linecap="round"/>
<path d="M776.1 389.2 L792 374 L794.2 395.9" fill="none" stroke="#262626" stroke-width="3.6" stroke-linecap="round" stroke-linejoin="round"/>
<path d="M708 529 C780 515 840 470 848 413" fill="none" stroke="#262626" stroke-width="3.6" stroke-linecap="round"/>
<path d="M835.7 431.2 L848 413 L854.8 433.9" fill="none" stroke="#262626" stroke-width="3.6" stroke-linecap="round" stroke-linejoin="round"/>
<path d="M944 304 C1000 312 1055 345 1066 402" fill="none" stroke="#262626" stroke-width="3.6" stroke-linecap="round"/>
<path d="M1071.7 380.8 L1066 402 L1052.8 384.4" fill="none" stroke="#262626" stroke-width="3.6" stroke-linecap="round" stroke-linejoin="round"/>
<path d="M906 370 C925 420 960 462 1014 470" fill="none" stroke="#262626" stroke-width="3.6" stroke-linecap="round"/>
<path d="M995.9 457.6 L1014 470 L993.0 476.6" fill="none" stroke="#262626" stroke-width="3.6" stroke-linecap="round" stroke-linejoin="round"/>
<path d="M895 407 C905 470 940 515 1001 519" fill="none" stroke="#262626" stroke-width="3.6" stroke-linecap="round"/>
<path d="M981.9 508.1 L1001 519 L980.6 527.3" fill="none" stroke="#262626" stroke-width="3.6" stroke-linecap="round" stroke-linejoin="round"/>
<path d="M1106 398 C1125 330 1180 295 1256 286" fill="none" stroke="#262626" stroke-width="3.6" stroke-linecap="round"/>
<path d="M1235.2 278.7 L1256 286 L1237.5 297.9" fill="none" stroke="#262626" stroke-width="3.6" stroke-linecap="round" stroke-linejoin="round"/>
<path d="M1466 651 C1400 720 1230 730 1152 598" fill="none" stroke="#262626" stroke-width="3.6" stroke-linecap="round"/>
<path d="M1153.8 619.9 L1152 598 L1170.4 610.1" fill="none" stroke="#262626" stroke-width="3.6" stroke-linecap="round" stroke-linejoin="round"/>
<path d="M1583 606 C1610 630 1612 670 1601 711" fill="none" stroke="#262626" stroke-width="3.6" stroke-linecap="round"/>
<path d="M1615.4 694.4 L1601 711 L1596.8 689.4" fill="none" stroke="#262626" stroke-width="3.6" stroke-linecap="round" stroke-linejoin="round"/>
<path d="M478 748 C455 700 470 640 531 596" fill="none" stroke="#262626" stroke-width="3.6" stroke-linecap="round"/>
<path d="M509.3 599.7 L531 596 L520.6 615.4" fill="none" stroke="#262626" stroke-width="3.6" stroke-linecap="round" stroke-linejoin="round"/>
<path d="M264 837 C320 875 420 875 483 843" fill="none" stroke="#262626" stroke-width="3.6" stroke-linecap="round"/>
<path d="M461.0 843.4 L483 843 L469.7 860.6" fill="none" stroke="#262626" stroke-width="3.6" stroke-linecap="round" stroke-linejoin="round"/></svg>
</body></html>
